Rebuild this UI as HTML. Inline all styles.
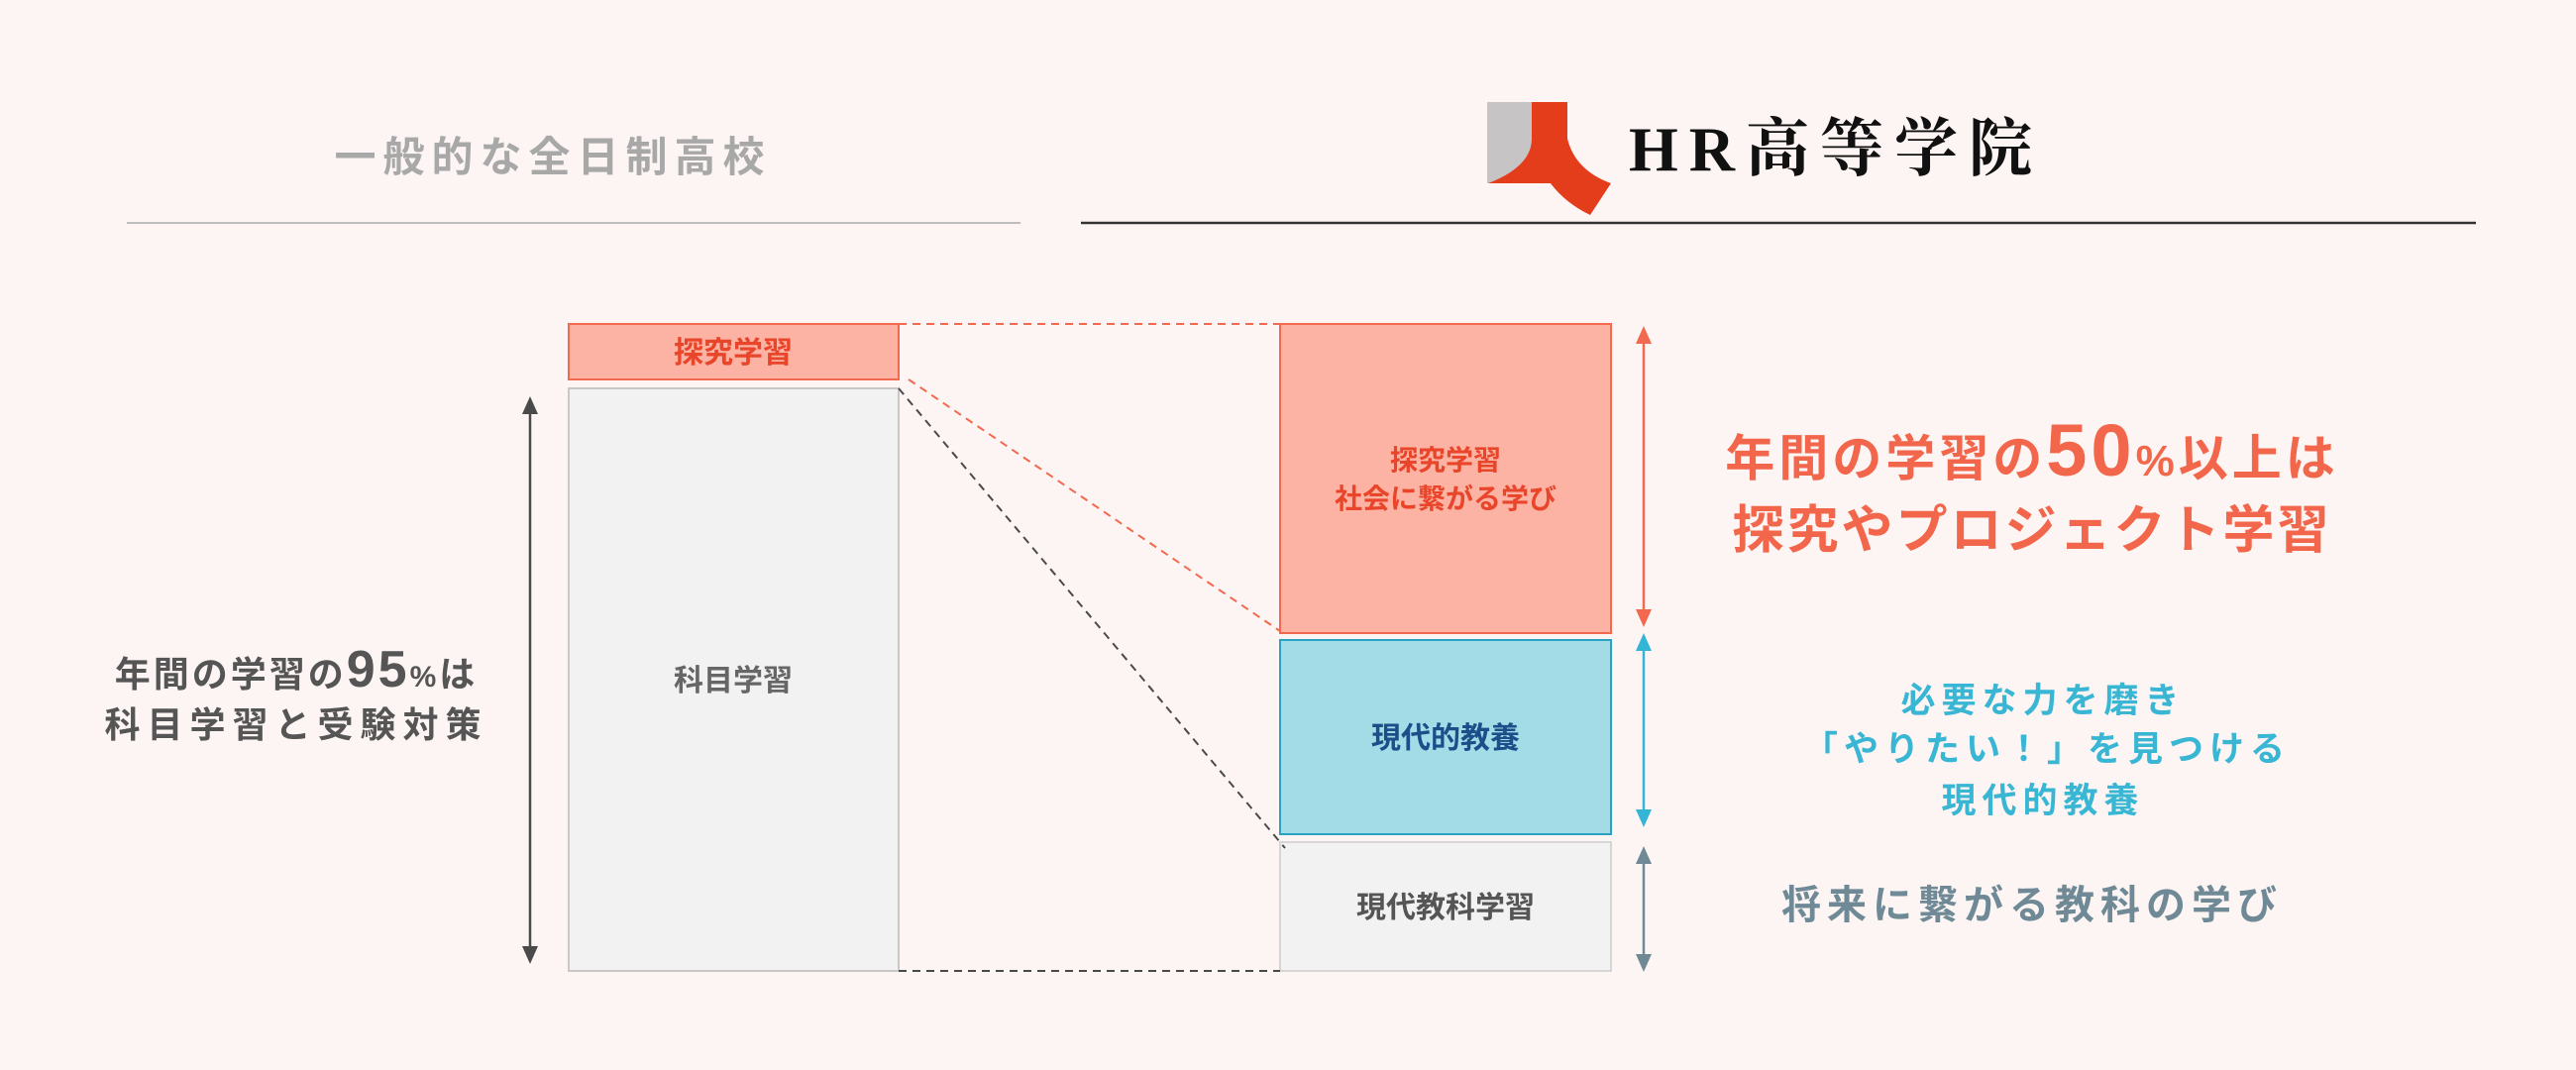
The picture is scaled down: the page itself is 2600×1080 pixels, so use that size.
<!DOCTYPE html>
<html><head><meta charset="utf-8"><style>
html,body{margin:0;padding:0;background:#fdf5f3;}
svg{display:block;}
text{font-family:"Liberation Sans","Noto Sans CJK JP",sans-serif;}
</style></head><body>
<svg width="2600" height="1080" viewBox="0 0 2600 1080" xmlns="http://www.w3.org/2000/svg">
<rect width="2600" height="1080" fill="#fdf5f3"/>
<!-- headings -->
<text x="558" y="173" text-anchor="middle" font-size="42" font-weight="bold" fill="#a8a8a8" letter-spacing="7">一般的な全日制高校</text>
<line x1="128" y1="225" x2="1030" y2="225" stroke="#bdbdbd" stroke-width="2"/>
<line x1="1091" y1="225" x2="2499" y2="225" stroke="#333" stroke-width="2.5"/>
<!-- logo -->
<rect x="1501" y="103" width="46" height="82" fill="#c6c4c4"/>
<path d="M1546,103 L1582,103 L1582,140 Q1590,172 1626,185 L1605,217 Q1580,205 1565,185 L1502,185 Q1546,168 1546,140 Z" fill="#e33d1c"/>
<text x="1644" y="172" font-size="64" font-weight="bold" fill="#111" letter-spacing="11" style='font-family:"Liberation Serif","Noto Serif CJK SC",serif'>HR高等学院</text>
<!-- left boxes -->
<rect x="574" y="327" width="333" height="56" fill="#fdb3a3" stroke="#f2694f" stroke-width="2"/>
<text x="740" y="366" text-anchor="middle" font-size="30" font-weight="bold" fill="#e8452a">探究学習</text>
<rect x="574" y="392" width="333" height="588" fill="#f2f2f2" stroke="#c8c8c8" stroke-width="2"/>
<text x="740" y="697" text-anchor="middle" font-size="30" font-weight="bold" fill="#666">科目学習</text>
<!-- right boxes -->
<rect x="1292" y="327" width="334" height="312" fill="#fdb3a3" stroke="#f2694f" stroke-width="2"/>
<text x="1459" y="474" text-anchor="middle" font-size="28" font-weight="bold" fill="#e8452a">探究学習</text>
<text x="1459" y="513" text-anchor="middle" font-size="28" font-weight="bold" fill="#e8452a">社会に繋がる学び</text>
<rect x="1292" y="646" width="334" height="196" fill="#a3dbe7" stroke="#2aa3c2" stroke-width="2"/>
<text x="1459" y="755" text-anchor="middle" font-size="30" font-weight="bold" fill="#1b4f8a">現代的教養</text>
<rect x="1292" y="850" width="334" height="130" fill="#f2f2f2" stroke="#d6d6d6" stroke-width="2"/>
<text x="1459" y="926" text-anchor="middle" font-size="30" font-weight="bold" fill="#555">現代教科学習</text>
<!-- dashed connectors -->
<line x1="907" y1="327" x2="1292" y2="327" stroke="#f2694f" stroke-width="2" stroke-dasharray="8,6"/>
<line x1="917" y1="383" x2="1292" y2="637" stroke="#f2694f" stroke-width="2" stroke-dasharray="8,6"/>
<line x1="907" y1="392" x2="1297" y2="856" stroke="#4a4a4a" stroke-width="2" stroke-dasharray="8,6"/>
<line x1="907" y1="980" x2="1292" y2="980" stroke="#4a4a4a" stroke-width="2" stroke-dasharray="8,6"/>
<!-- left arrow -->
<line x1="535" y1="418" x2="535" y2="955" stroke="#4a4a4a" stroke-width="2.5"/>
<path d="M527,418 L535,400 L543,418 Z" fill="#4a4a4a"/>
<path d="M527,955 L535,973 L543,955 Z" fill="#4a4a4a"/>
<!-- right arrows -->
<line x1="1659" y1="345" x2="1659" y2="617" stroke="#f2694f" stroke-width="2.5"/>
<path d="M1651,347 L1659,329 L1667,347 Z" fill="#f2694f"/>
<path d="M1651,615 L1659,633 L1667,615 Z" fill="#f2694f"/>
<line x1="1659" y1="655" x2="1659" y2="819" stroke="#35b5d6" stroke-width="2.5"/>
<path d="M1651,657 L1659,639 L1667,657 Z" fill="#35b5d6"/>
<path d="M1651,817 L1659,835 L1667,817 Z" fill="#35b5d6"/>
<line x1="1659" y1="870" x2="1659" y2="965" stroke="#6f8a96" stroke-width="2.5"/>
<path d="M1651,872 L1659,854 L1667,872 Z" fill="#6f8a96"/>
<path d="M1651,963 L1659,981 L1667,963 Z" fill="#6f8a96"/>
<!-- left annotation -->
<text x="299" y="693" text-anchor="middle" font-size="36" font-weight="bold" fill="#555" letter-spacing="3">年間の学習の<tspan font-size="52">95</tspan><tspan font-size="30">%</tspan>は</text>
<text x="299" y="744" text-anchor="middle" font-size="36" font-weight="bold" fill="#555" letter-spacing="7">科目学習と受験対策</text>
<!-- right annotations -->
<text x="2051" y="480" text-anchor="middle" font-size="50" font-weight="bold" fill="#f2674c" letter-spacing="4">年間の学習の<tspan font-size="74">50</tspan><tspan font-size="44">%</tspan>以上は</text>
<text x="2051" y="553" text-anchor="middle" font-size="52" font-weight="bold" fill="#f2674c" letter-spacing="3">探究やプロジェクト学習</text>
<text x="2062" y="719" text-anchor="middle" font-size="35" font-weight="bold" fill="#38b6d4" letter-spacing="6">必要な力を磨き</text>
<text x="2066" y="768" text-anchor="middle" font-size="35" font-weight="bold" fill="#38b6d4" letter-spacing="6">「やりたい！」を見つける</text>
<text x="2062" y="820" text-anchor="middle" font-size="35" font-weight="bold" fill="#38b6d4" letter-spacing="6">現代的教養</text>
<text x="2051" y="927" text-anchor="middle" font-size="40" font-weight="bold" fill="#6f8a96" letter-spacing="6">将来に繋がる教科の学び</text>
</svg>
</body></html>
